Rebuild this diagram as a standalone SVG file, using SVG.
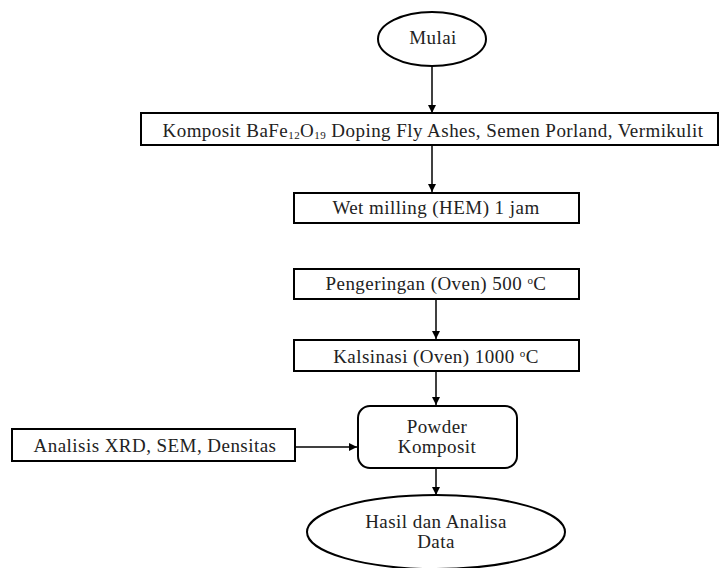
<svg xmlns="http://www.w3.org/2000/svg" width="720" height="568" viewBox="0 0 720 568">
<style>
.b{fill:#fff;stroke:#000;stroke-width:2}
.t{font-family:"Liberation Serif","Times New Roman",serif;font-size:19px;letter-spacing:0.45px;fill:#222;text-anchor:middle}
.c{stroke:#000;stroke-width:1.5;fill:none;marker-end:url(#ah)}
</style>
<defs>
<marker id="ah" viewBox="0 0 10 10" refX="10" refY="5" markerWidth="8" markerHeight="8" markerUnits="userSpaceOnUse" orient="auto">
<path d="M0,0 L10,5 L0,10 z" fill="#000"/>
</marker>
</defs>
<rect width="720" height="568" fill="#fff"/>
<g id="connectors">
<line class="c" x1="432" y1="66" x2="432" y2="113"/>
<line class="c" x1="432" y1="145" x2="432" y2="192"/>
<line class="c" x1="436" y1="299" x2="436" y2="339"/>
<line class="c" x1="436" y1="371" x2="436" y2="405"/>
<line class="c" x1="295" y1="447" x2="357" y2="447"/>
<line class="c" x1="436" y1="468" x2="436" y2="495"/>
</g>
<g id="mulai">
<ellipse class="b" cx="432" cy="39" rx="54" ry="27"/>
<text class="t" x="433" y="44">Mulai</text>
</g>
<g id="komposit">
<rect class="b" x="141" y="113" width="577" height="32"/>
<text class="t" x="433" y="137">Komposit BaFe<tspan font-size="11" dy="2">12</tspan><tspan dy="-2">O</tspan><tspan font-size="11" dy="2">19</tspan><tspan dy="-2"> Doping Fly  Ashes, Semen Porland, Vermikulit</tspan></text>
</g>
<g id="wet-milling">
<rect class="b" x="294" y="193" width="285" height="30"/>
<text class="t" x="436" y="214">Wet milling (HEM) 1 jam</text>
</g>
<g id="pengeringan">
<rect class="b" x="294" y="269" width="285" height="30"/>
<text class="t" x="436" y="290">Pengeringan (Oven) 500 <tspan font-size="11" dy="-6">o</tspan><tspan dy="6">C</tspan></text>
</g>
<g id="kalsinasi">
<rect class="b" x="294" y="340" width="285" height="31"/>
<text class="t" x="436" y="363">Kalsinasi (Oven) 1000 <tspan font-size="11" dy="-6">o</tspan><tspan dy="6">C</tspan></text>
</g>
<g id="powder">
<rect class="b" x="358" y="406" width="159" height="62" rx="12"/>
<text class="t" x="437" y="433">Powder</text>
<text class="t" x="437" y="453">Komposit</text>
</g>
<g id="analisis">
<rect class="b" x="12" y="429" width="283" height="32"/>
<text class="t" x="155" y="452">Analisis XRD, SEM, Densitas</text>
</g>
<g id="hasil">
<ellipse class="b" cx="436" cy="532" rx="129" ry="37"/>
<text class="t" x="436" y="528">Hasil dan Analisa</text>
<text class="t" x="436" y="548">Data</text>
</g>
</svg>
